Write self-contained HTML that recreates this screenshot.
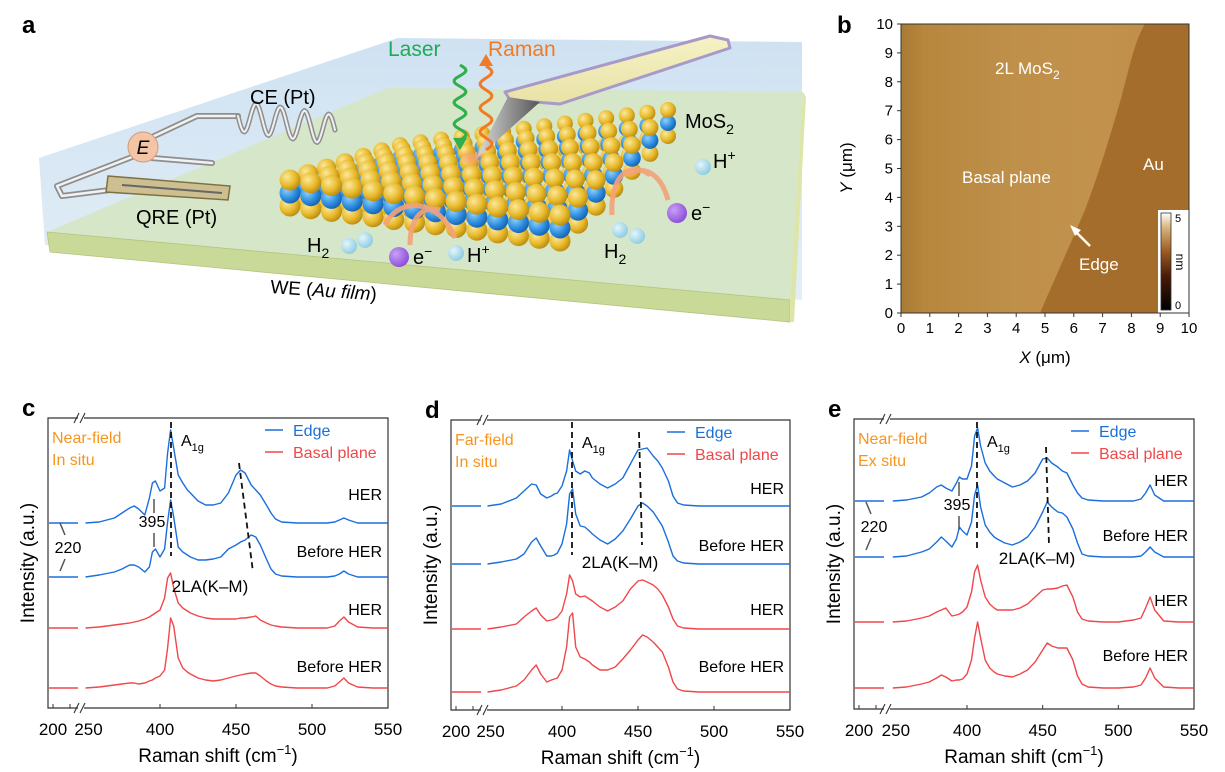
<!DOCTYPE html>
<html><head><meta charset="utf-8"><style>
html,body{margin:0;padding:0;background:#fff}
svg{display:block;font-family:"Liberation Sans",sans-serif}
</style></head><body>
<svg id="fig" width="1225" height="772" viewBox="0 0 1225 772" xmlns="http://www.w3.org/2000/svg">
<defs>
<radialGradient id="gy" cx="0.35" cy="0.35" r="0.7"><stop offset="0" stop-color="#fbe89a"/><stop offset="0.6" stop-color="#e8b92a"/><stop offset="1" stop-color="#b98a10"/></radialGradient>
<radialGradient id="gb" cx="0.35" cy="0.35" r="0.7"><stop offset="0" stop-color="#8fd0fa"/><stop offset="0.6" stop-color="#2f8ee0"/><stop offset="1" stop-color="#1560b0"/></radialGradient>
<radialGradient id="gh" cx="0.35" cy="0.35" r="0.7"><stop offset="0" stop-color="#e4f5fb"/><stop offset="1" stop-color="#8ccbe0"/></radialGradient>
<radialGradient id="ge" cx="0.35" cy="0.35" r="0.7"><stop offset="0" stop-color="#c8a0f5"/><stop offset="1" stop-color="#8a4ed8"/></radialGradient>
<linearGradient id="gliq" x1="0" y1="0" x2="0" y2="1"><stop offset="0" stop-color="#cfe2f2"/><stop offset="1" stop-color="#e3eef6"/></linearGradient>
<linearGradient id="gafm" x1="0" y1="0" x2="1" y2="0"><stop offset="0" stop-color="#a97a33"/><stop offset="0.08" stop-color="#b7873e"/><stop offset="0.4" stop-color="#bf904a"/><stop offset="0.7" stop-color="#c2924d"/><stop offset="1" stop-color="#bd8c46"/></linearGradient>
<linearGradient id="gcb" x1="0" y1="1" x2="0" y2="0"><stop offset="0" stop-color="#000"/><stop offset="0.35" stop-color="#4a1a08"/><stop offset="0.6" stop-color="#9c5a22"/><stop offset="0.85" stop-color="#d8b47e"/><stop offset="1" stop-color="#fff"/></linearGradient>
<linearGradient id="gcant" x1="0" y1="0" x2="0" y2="1"><stop offset="0" stop-color="#f6f2c6"/><stop offset="1" stop-color="#e8e2a6"/></linearGradient>
<linearGradient id="gtip" x1="0" y1="0" x2="1" y2="0"><stop offset="0" stop-color="#e0e0e0"/><stop offset="0.5" stop-color="#999"/><stop offset="1" stop-color="#555"/></linearGradient>
<filter id="glow" x="-50%" y="-50%" width="200%" height="200%"><feGaussianBlur stdDeviation="3"/></filter>
</defs>

<g id="panel-a">
<text x="22" y="33" font-size="24" font-weight="bold">a</text>
<polygon points="39,158 398,38 802,42 802,300 45,245" fill="url(#gliq)"/>
<polygon points="388,88 803,92 790,300 47,232" fill="#d5e6c6" opacity="0.95"/>
<polygon points="47,232 790,300 790,322 50,252" fill="#c9d998" stroke="#b5c47e" stroke-width="0.8"/>
<polygon points="790,300 803,92 806,97 794,322 790,322" fill="#dde6a8"/>
<g fill="none" stroke-linejoin="round" stroke-linecap="round">
<path d="M150,138 L197,116 L238,116 M152,158 L212,163 M132,157 L57,186 L62,196 L110,190" stroke="#8e8e8e" stroke-width="6"/>
<path d="M150,138 L197,116 L238,116 M152,158 L212,163 M132,157 L57,186 L62,196 L110,190" stroke="#f2f2f2" stroke-width="2.5"/>
<path id="coil" d="" stroke="#8e8e8e" stroke-width="5"/>
<path id="coil2" d="" stroke="#f0f0f0" stroke-width="2"/>
</g>
<polygon points="108,176 230,186 228,200 106,192" fill="#cdbf8f" stroke="#7d7045" stroke-width="1.5"/>
<line x1="122" y1="185" x2="222" y2="193" stroke="#666" stroke-width="2"/>
<circle cx="143" cy="147" r="15" fill="#f3c4a6" stroke="#d49a78" stroke-width="1"/>
<text x="143" y="154" font-size="19" font-style="italic" text-anchor="middle">E</text>
<text x="250" y="104" font-size="20">CE (Pt)</text>
<text x="136" y="224" font-size="20">QRE (Pt)</text>
<text x="270" y="293" font-size="19" font-style="italic" transform="rotate(4 270 293)"><tspan font-style="normal">WE (</tspan>Au film<tspan font-style="normal">)</tspan></text>
<g id="lattice"></g>
<polygon points="505,92 710,36 728,40 730,48 560,104 510,100" fill="url(#gcant)" stroke="#a79ac8" stroke-width="3" stroke-linejoin="round"/>
<polygon points="508,97 540,102 475,160" fill="url(#gtip)"/>
<ellipse cx="472" cy="158" rx="9" ry="6" fill="#f59b6a" opacity="0.8" filter="url(#glow)"/>
<path id="laser" d="" fill="none" stroke="#2fb04a" stroke-width="3"/>
<polygon points="453,138 467,138 460,150" fill="#2fb04a"/>
<path id="raman" d="" fill="none" stroke="#f07a26" stroke-width="3"/>
<polygon points="479,66 493,66 486,54" fill="#f07a26"/>
<text x="388" y="56" font-size="21" fill="#1faa55">Laser</text>
<text x="488" y="56" font-size="21" fill="#f07a26">Raman</text>
<text x="685" y="128" font-size="20">MoS<tspan font-size="14" dy="6">2</tspan></text>
<g fill="none" stroke="#f4a27a" stroke-width="5" opacity="0.9">
<path d="M455,238 C440,200 400,195 385,225"/>
<path d="M410,245 C410,215 425,205 440,210"/>
<path d="M650,175 C630,160 610,175 612,215"/>
<path d="M668,200 C660,170 640,165 628,175"/>
</g>
<g>
<circle cx="349" cy="246" r="8" fill="url(#gh)"/><circle cx="365" cy="240" r="8" fill="url(#gh)"/>
<circle cx="399" cy="257" r="10" fill="url(#ge)"/>
<circle cx="456" cy="253" r="8" fill="url(#gh)"/>
<circle cx="620" cy="230" r="8" fill="url(#gh)"/><circle cx="637" cy="236" r="8" fill="url(#gh)"/>
<circle cx="677" cy="213" r="10" fill="url(#ge)"/>
<circle cx="703" cy="167" r="8" fill="url(#gh)"/>
</g>
<text x="307" y="252" font-size="20">H<tspan font-size="14" dy="6">2</tspan></text>
<text x="413" y="264" font-size="20">e<tspan font-size="14" dy="-8">−</tspan></text>
<text x="467" y="262" font-size="20">H<tspan font-size="14" dy="-8">+</tspan></text>
<text x="604" y="258" font-size="20">H<tspan font-size="14" dy="6">2</tspan></text>
<text x="691" y="220" font-size="20">e<tspan font-size="14" dy="-8">−</tspan></text>
<text x="713" y="168" font-size="20">H<tspan font-size="14" dy="-8">+</tspan></text>
</g>

<g id="panel-b">
<text x="837" y="33" font-size="24" font-weight="bold">b</text>
<rect x="901" y="24" width="288" height="289" fill="url(#gafm)"/>
<path d="M1040,313 C1052,285 1070,245 1085,210 C1100,170 1112,130 1122,95 C1130,65 1135,40 1145,24 L1189,24 L1189,313 Z" fill="#a56d2b"/>
<text x="995" y="74" font-size="17" fill="#fff">2L MoS<tspan font-size="12" dy="5">2</tspan></text>
<text x="962" y="183" font-size="17" fill="#fff">Basal plane</text>
<text x="1143" y="170" font-size="17" fill="#fff">Au</text>
<text x="1079" y="270" font-size="17" fill="#fff">Edge</text>
<line x1="1090" y1="246" x2="1075" y2="231" stroke="#fff" stroke-width="2.5"/>
<polygon points="1070,225 1081,230 1075,236" fill="#fff"/>
<rect x="1158" y="210" width="31" height="103" fill="#fff"/>
<rect x="1161" y="213" width="10" height="97" fill="url(#gcb)" stroke="#333" stroke-width="0.8"/>
<text x="1175" y="222" font-size="11">5</text>
<text x="1175" y="309" font-size="11">0</text>
<text x="1176" y="262" font-size="12" transform="rotate(90 1176 262)" text-anchor="middle">nm</text>
<rect x="901" y="24" width="288" height="289" fill="none" stroke="#333" stroke-width="1"/>
<g id="afm-axes"></g>
<text x="1045" y="363" font-size="17" text-anchor="middle"><tspan font-style="italic">X</tspan> (μm)</text>
<text x="852" y="168" font-size="17" text-anchor="middle" transform="rotate(-90 852 168)"><tspan font-style="italic">Y</tspan> (μm)</text>
</g>

<g id="charts"></g>
</svg>
<script>
const shifts = [351,360,370,375,380,383,386,390,393,395,397,400,403,405,407,409,412,415,418,420,425,430,435,440,445,450,453,456,460,463,466,470,473,476,480,490,500,510,515,518,521,524,530,540,550];
const cEdgeHER   = [0,1,5,10,15,17,14,8,25,40,42,32,35,70,93,75,48,40,33,30,22,18,18,20,30,48,53,50,38,33,28,18,10,4,1,0,0,0,1,3,5,3,0,0,0];
const cEdgeBefore= [0,2,5,8,12,12,10,5,10,25,28,20,28,55,77,60,30,25,22,20,17,17,18,20,28,32,35,37,42,40,32,18,8,3,1,0,0,0,1,3,6,3,0,0,0];
const cBasalHER  = [0,1,3,4,5,6,7,9,11,13,15,18,30,50,55,40,25,20,17,15,12,10,9,9,9,9,10,10,11,12,8,5,3,2,1,0,0,0,2,7,11,6,1,0,0];
const cBasalBefore=[0,1,3,4,5,5,4,5,7,8,10,12,18,40,70,62,30,20,16,14,10,8,7,8,10,12,13,14,15,15,12,7,4,2,1,0,0,0,2,6,10,5,1,0,0];
const dEdgeHER   = [0,2,8,15,22,21,12,8,10,12,13,20,35,56,45,35,32,35,33,28,22,18,22,28,42,56,57,58,50,45,38,25,10,3,1,0,0,0,0,0,0,0,0,0,0];
const dEdgeBefore= [0,2,5,10,22,26,18,8,8,9,11,20,40,70,75,50,38,37,33,30,24,20,25,33,45,58,61,58,52,45,38,22,8,3,1,0,0,0,0,0,0,0,0,0,0];
const dBasalHER  = [0,2,5,12,18,21,14,8,9,10,12,18,35,54,48,35,32,33,30,28,22,18,22,28,40,48,49,47,44,40,34,22,10,3,1,0,0,0,0,0,0,0,0,0,0];
const dBasalBefore=[0,2,6,12,22,27,18,10,12,13,14,22,45,75,79,45,35,33,30,27,22,22,25,33,42,52,57,55,50,45,40,25,10,3,1,0,0,0,0,0,0,0,0,0,0];
const eEdgeHER   = [0,1,4,8,14,16,13,10,18,24,22,22,35,65,73,55,38,30,25,22,18,14,16,20,28,42,43,38,34,30,28,16,8,3,1,0,0,0,2,8,16,6,0,0,0];
const eEdgeBefore= [0,1,5,8,15,20,16,10,18,30,26,22,35,62,72,50,32,25,20,18,14,12,15,20,30,45,55,50,45,44,40,28,14,3,1,0,0,0,1,5,10,5,0,0,0];
const eBasalHER  = [0,1,4,6,10,12,14,6,7,8,10,15,30,50,57,42,25,18,14,12,12,12,14,18,25,32,33,33,34,36,37,25,10,3,1,0,0,2,4,14,25,12,1,0,0];
const eBasalBefore=[0,1,4,6,10,13,11,7,8,8,9,14,28,50,66,50,28,20,16,14,12,11,14,18,26,38,45,42,40,40,40,28,12,4,1,0,0,1,3,10,20,10,1,0,0];
const xTickLabels = ["400","450","500","550"];
const xTickValues = [400,450,500,550];
const afmTicks = [0,1,2,3,4,5,6,7,8,9,10];

const NS = "http://www.w3.org/2000/svg";
function el(tag, attrs, parent){ const e=document.createElementNS(NS,tag); for(const k in attrs) e.setAttribute(k,attrs[k]); if(parent) parent.appendChild(e); return e; }
function txt(parent, x, y, s, size, extra){ const t=el('text',Object.assign({x:x,y:y,'font-size':size},extra||{}),parent); t.textContent=s; return t; }

(function(){
  let d="", x0=238, y0=116;
  for(let i=0;i<=60;i++){ const t=i/60; const x=x0+t*97; const y=y0+t*14+Math.sin(t*Math.PI*8)*15; d+=(i?"L":"M")+x.toFixed(1)+","+y.toFixed(1); }
  document.getElementById('coil').setAttribute('d',d);
  document.getElementById('coil2').setAttribute('d',d);
  let l="", r="";
  for(let i=0;i<=40;i++){ const t=i/40; l+=(i?"L":"M")+(460+Math.sin(t*Math.PI*7)*6).toFixed(1)+","+(65+t*75).toFixed(1);
    r+=(i?"L":"M")+(486+Math.sin(t*Math.PI*7)*6).toFixed(1)+","+(150-t*84).toFixed(1); }
  document.getElementById('laser').setAttribute('d',l);
  document.getElementById('raman').setAttribute('d',r);
  const g=document.getElementById('lattice');
  const A=[290,180],B=[560,215],C=[668,110],D=[400,145];
  const nu=14, nv=7;
  const layers=[[26,'url(#gy)'],[13,'url(#gb)'],[0,'url(#gy)']];
  for(const [off,fill] of layers){
    for(let j=nv-1;j>=0;j--){ for(let i=0;i<nu;i++){
      const u=i/(nu-1), v=j/(nv-1);
      const fx=A[0]+(B[0]-A[0])*u, fy=A[1]+(B[1]-A[1])*u;
      const bx=D[0]+(C[0]-D[0])*u, by=D[1]+(C[1]-D[1])*u;
      const x=fx+(bx-fx)*v, y=fy+(by-fy)*v+off;
      const r=10.5-v*2.5;
      const c=el('circle',{cx:x.toFixed(1),cy:y.toFixed(1),r:r.toFixed(1),fill:fill},g);
      
      
    }}
  }
})();

(function(){
  const g=document.getElementById('afm-axes');
  const x0=901,x1=1189,y0=313,y1=24;
  for(const t of afmTicks){
    const x=x0+(x1-x0)*t/10, y=y0+(y1-y0)*t/10;
    el('line',{x1:x,y1:y0,x2:x,y2:y0+4,stroke:'#333'},g);
    const tx=txt(g,x,333,String(t),15,{'text-anchor':'middle'});
    
    
    el('line',{x1:x0-4,y1:y,x2:x0,y2:y,stroke:'#333'},g);
    const ty=txt(g,893,y+5,String(t),15,{'text-anchor':'end'});
    
    
  }
})();

const panels = [
 {id:'c', bx:48, by:418, bx2:388, by2:708, x400:160, x550:388, bases:[523,577,628,688], series:[cEdgeHER,cEdgeBefore,cBasalHER,cBasalBefore],
  tag1:'Near-field', tag2:'In situ', labY:[500,557,615,672], a1gX:171, a1gY:[422,556], la:[[239,463],[253,572]], laLab:[210,592], n395:[152,527], n220:[68,553]},
 {id:'d', bx:451, by:420, bx2:790, by2:710, x400:562, x550:790, bases:[506,564,629,692], series:[dEdgeHER,dEdgeBefore,dBasalHER,dBasalBefore],
  tag1:'Far-field', tag2:'In situ', labY:[494,551,615,672], a1gX:572, a1gY:[422,555], la:[[639,432],[642,545]], laLab:[620,568], n395:null, n220:null},
 {id:'e', bx:854, by:419, bx2:1194, by2:709, x400:967, x550:1194, bases:[501,557,622,688], series:[eEdgeHER,eEdgeBefore,eBasalHER,eBasalBefore],
  tag1:'Near-field', tag2:'Ex situ', labY:[486,541,606,661], a1gX:977, a1gY:[422,552], la:[[1046,447],[1049,545]], laLab:[1037,564], n395:[957,510], n220:[874,532]}
];
const colors=['#1a6fdc','#1a6fdc','#f0474a','#f0474a'];
const labels=['HER','Before HER','HER','Before HER'];
const root=document.getElementById('charts');
for(const p of panels){
  const g=el('g',{},root);
  
  
  const xS = v => p.x400 + (v-400)*(p.x550-p.x400)/150;
  const yS = (base,v) => base - v;
  const brk = p.bx+33;
  const L=txt(g,p.bx-26,p.by-2,p.id,24,{'font-weight':'bold'});
  
  
  el('path',{d:`M${brk-3},${p.by}L${p.bx},${p.by}L${p.bx},${p.by2}L${brk-3},${p.by2}M${brk+3},${p.by2}L${p.bx2},${p.by2}L${p.bx2},${p.by}L${brk+3},${p.by}`,fill:'none',stroke:'#333','stroke-width':1.2},g);
  for(const yy of [p.by,p.by2]){ el('path',{d:`M${brk-7},${yy+5}L${brk-2},${yy-5}M${brk-1},${yy+5}L${brk+4},${yy-5}`,stroke:'#333','stroke-width':1.1},g); }
  xTickValues.forEach((v,i)=>{
    const x=xS(v);
    el('line',{x1:x,y1:p.by2,x2:x,y2:p.by2-4,stroke:'#333'},g);
    const t=txt(g,x,p.by2+27,xTickLabels[i],17,{'text-anchor':'middle'});
    
    
  });
  for(const dx of [5,22]) el('line',{x1:p.bx+dx,y1:p.by2,x2:p.bx+dx,y2:p.by2-4,stroke:'#333'},g);
  const t200=txt(g,p.bx+5,p.by2+27,'200',17,{'text-anchor':'middle'});
  
  
  const t250=txt(g,xS(shifts[0])+3,p.by2+27,'250',17,{'text-anchor':'middle'});
  
  
  const xt=txt(g,(p.bx+p.bx2)/2,p.by2+54,'Raman shift (cm',19,{'text-anchor':'middle'});
  const sup=el('tspan',{'font-size':13,dy:-8},xt); sup.textContent='−1';
  const cl=el('tspan',{dy:8},xt); cl.textContent=')';
  
  
  const yt=txt(g,p.bx-14,(p.by+p.by2)/2,'Intensity (a.u.)',19,{'text-anchor':'middle',transform:`rotate(-90 ${p.bx-14} ${(p.by+p.by2)/2})`});
  
  
  p.series.forEach((arr,k)=>{
    const base=p.bases[k];
    let d='';
    arr.forEach((v,i)=>{ d+=(i?'L':'M')+xS(shifts[i]).toFixed(1)+','+yS(base,v).toFixed(1); });
    const path=el('path',{d:d,fill:'none',stroke:colors[k],'stroke-width':1.4,'stroke-linejoin':'round'},g);
    
    
    const low=el('line',{x1:p.bx+1,y1:yS(base,arr[0]),x2:brk-3,y2:yS(base,arr[0]),stroke:colors[k],'stroke-width':1.6},g);
    
    
    const lb=txt(g,p.bx2-6,p.labY[k],labels[k],16,{'text-anchor':'end'});
    
    
  });
  const t1=txt(g,p.bx+4,p.by+25,p.tag1,16,{fill:'#f7941d'});
  
  
  const t2=txt(g,p.bx+4,p.by+47,p.tag2,16,{fill:'#f7941d'});
  
  
  el('line',{x1:p.a1gX,y1:p.a1gY[0],x2:p.a1gX,y2:p.a1gY[1],stroke:'#111','stroke-width':1.8,'stroke-dasharray':'6,4'},g);
  el('line',{x1:p.la[0][0],y1:p.la[0][1],x2:p.la[1][0],y2:p.la[1][1],stroke:'#111','stroke-width':1.8,'stroke-dasharray':'6,4'},g);
  const a=txt(g,p.a1gX+10,p.by+28,'A',16);
  const sb=el('tspan',{'font-size':11,dy:5},a); sb.textContent='1g';
  
  
  const la=txt(g,p.laLab[0],p.laLab[1],'2LA(K–M)',17,{'text-anchor':'middle'});
  
  
  const lx=p.bx2-123;
  el('line',{x1:lx,y1:p.by+12,x2:lx+18,y2:p.by+12,stroke:'#1a6fdc','stroke-width':1.6},g);
  el('line',{x1:lx,y1:p.by+34,x2:lx+18,y2:p.by+34,stroke:'#f0474a','stroke-width':1.6},g);
  const le=txt(g,lx+28,p.by+18,'Edge',16,{fill:'#1a6fdc'});
  
  
  const lbp=txt(g,lx+28,p.by+40,'Basal plane',16,{fill:'#f0474a'});
  
  
  if(p.n395){
    const n=txt(g,p.n395[0],p.n395[1],'395',16,{'text-anchor':'middle'});
    
    
    el('path',{d:`M${p.n395[0]+2},${p.n395[1]-14}L${p.n395[0]+2},${p.n395[1]-28}M${p.n395[0]+2},${p.n395[1]+6}L${p.n395[0]+2},${p.n395[1]+20}`,stroke:'#555','stroke-width':1.5},g);
    const m=txt(g,p.n220[0],p.n220[1],'220',16,{'text-anchor':'middle'});
    
    
    el('path',{d:`M${p.n220[0]-3},${p.n220[1]-18}L${p.n220[0]-8},${p.n220[1]-30}M${p.n220[0]-3},${p.n220[1]+6}L${p.n220[0]-8},${p.n220[1]+18}`,stroke:'#555','stroke-width':1.5},g);
  }
}
</script>
</body></html>
